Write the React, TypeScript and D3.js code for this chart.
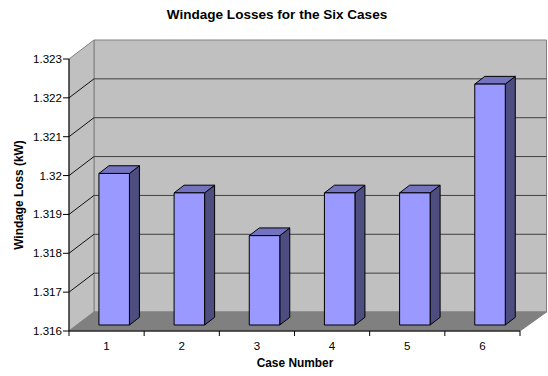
import React from "react";
import * as d3 from "d3";

const categories = ["1", "2", "3", "4", "5", "6"];
const values = [1.3199, 1.3194, 1.3183, 1.3194, 1.3194, 1.3222];
const yTicks = [1.316, 1.317, 1.318, 1.319, 1.32, 1.321, 1.322, 1.323];
const yTickLabels = ["1.316", "1.317", "1.318", "1.319", "1.32", "1.321", "1.322", "1.323"];

const W = 548, H = 376;
const x0 = 69, x1 = 520, yB = 331, yT = 59;
const DX = 25, DY = -19;
const barOffX = 7.6, barOffY = -6;
const barDX = 10, barDY = -7.7;
const font = "'Liberation Sans', Arial, sans-serif";

const xScale = d3.scaleBand<string>().domain(categories).range([x0, x1]).paddingInner(0).paddingOuter(0);
const yScale = d3.scaleLinear().domain([1.316, 1.323]).range([yB, yT]);
const poly = (pts: [number, number][]) => d3.line()(pts)! + "Z";

export default function App() {
  const bw = 30.5;
  return (
    <svg width={W} height={H} style={{ position: "absolute", left: 0, top: 0 }} fontFamily={font}>
      <rect width={W} height={H} fill="#fff" />
      {/* back wall */}
      <path d={poly([[x0 + DX, yT + DY], [x1 + DX + 1.5, yT + DY], [x1 + DX + 1.5, yB + DY], [x0 + DX, yB + DY]])} fill="#c0c0c0" stroke="#808080" strokeWidth={1} />
      {/* left wall */}
      <path d={poly([[x0, yT], [x0 + DX, yT + DY], [x0 + DX, yB + DY], [x0, yB]])} fill="#c0c0c0" stroke="#808080" strokeWidth={1} />
      {/* floor */}
      <path d={poly([[x0, yB], [x0 + DX, yB + DY], [x1 + DX + 1.5, yB + DY], [x1, yB]])} fill="#808080" stroke="#808080" strokeWidth={1} />
      {/* gridlines */}
      {yTicks.slice(1, -1).map((t) => (
        <g key={t} fill="none" strokeWidth={1}>
          <path d={`M${x0},${yScale(t)}L${x0 + DX},${yScale(t) + DY}`} stroke="#111" />
          <path d={`M${x0 + DX},${yScale(t) + DY}L${x1 + DX + 1.5},${yScale(t) + DY}`} stroke="#404040" />
        </g>
      ))}
      {/* bars */}
      {categories.map((c, i) => {
        const cx = xScale(c)! + xScale.bandwidth() / 2 + barOffX;
        const l = cx - bw / 2, r = cx + bw / 2;
        const top = yScale(values[i]) + barOffY;
        const bot = yScale(1.316) + barOffY;
        return (
          <g key={c} stroke="#000" strokeWidth={1} strokeLinejoin="round">
            <path d={poly([[r, top], [r + barDX, top + barDY], [r + barDX, bot + barDY], [r, bot]])} fill="#4d4d80" />
            <path d={poly([[l, top], [l + barDX, top + barDY], [r + barDX, top + barDY], [r, top]])} fill="#7373bf" />
            <rect x={l} y={top} width={bw} height={bot - top} fill="#9999ff" />
          </g>
        );
      })}
      {/* axes */}
      <path d={`M${x0},${yT}V${yB}H${x1}`} fill="none" stroke="#000" strokeWidth={1} />
      {yTicks.map((t, i) => (
        <g key={t}>
          <line x1={x0 - 6} x2={x0} y1={yScale(t)} y2={yScale(t)} stroke="#000" />
          <text x={62} y={yScale(t) + 4} textAnchor="end" fontSize={11.6} fill="#000">{yTickLabels[i]}</text>
        </g>
      ))}
      {[...categories.map((c) => xScale(c)!), x1].map((x) => (
        <line key={x} x1={x} x2={x} y1={yB} y2={yB + 5} stroke="#000" />
      ))}
      {categories.map((c) => (
        <text key={c} x={xScale(c)! + xScale.bandwidth() / 2} y={350} textAnchor="middle" fontSize={11.6} fill="#000">{c}</text>
      ))}
      <text x={277} y={19} textAnchor="middle" fontSize={13.55} fontWeight="bold">Windage Losses for the Six Cases</text>
      <text x={295} y={367} textAnchor="middle" fontSize={11.9} fontWeight="bold">Case Number</text>
      <text transform="translate(23,195) rotate(-90)" textAnchor="middle" fontSize={11.9} fontWeight="bold">Windage Loss (kW)</text>
    </svg>
  );
}
